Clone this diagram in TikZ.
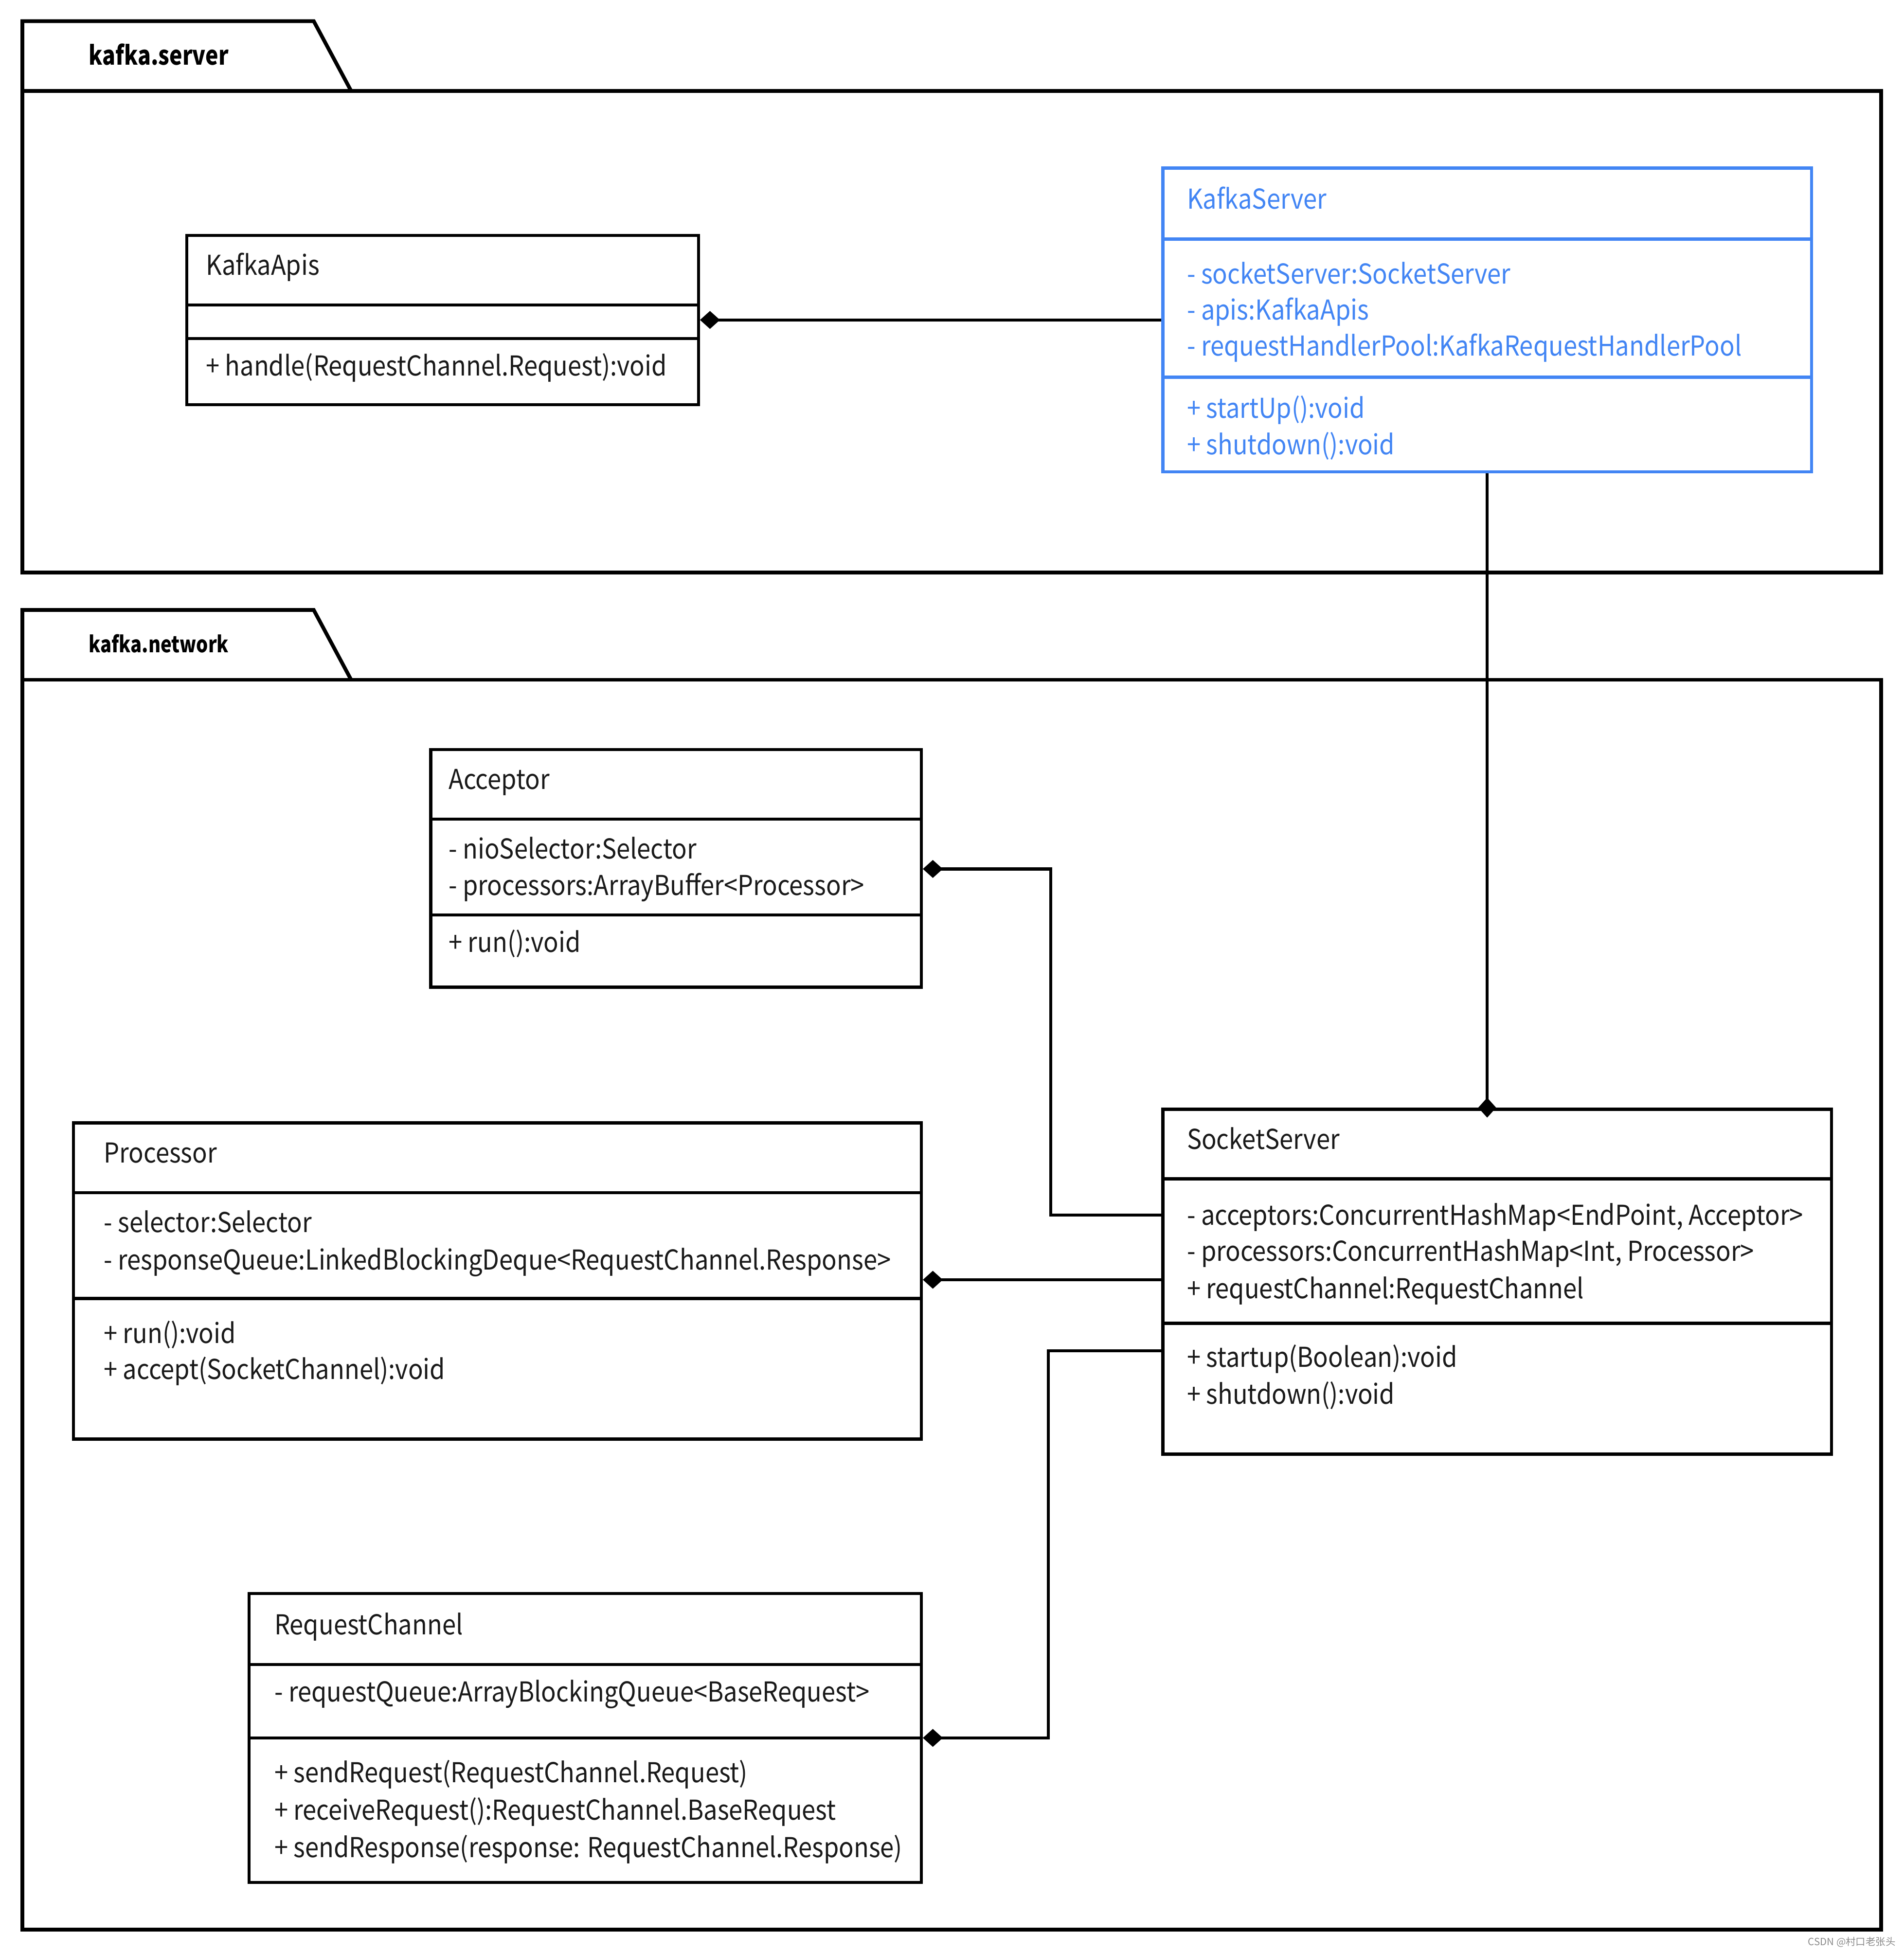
\documentclass[tikz,border=0pt]{standalone}
\usepackage{fontspec}
\setmainfont{Noto Sans CJK SC}
\newfontfamily\umlfont{Noto Sans CJK SC}[FakeStretch=0.9]
\newfontfamily\pkgfont{Noto Sans CJK SC}[FakeStretch=0.83]
\usetikzlibrary{arrows.meta,fit}
\definecolor{umlblue}{RGB}{66,133,244}
\tikzset{
  pkgline/.style={line width=1.5pt, draw=black},
  classbox/.style={draw=black, line width=1.25pt, inner sep=0pt, fill=none},
  bluebox/.style={draw=umlblue, line width=1.25pt, inner sep=0pt},
  divider/.style={line width=1.25pt},
  txt/.style={anchor=base west, inner sep=0pt, font=\umlfont\fontsize{11pt}{13pt}\selectfont, text=black!90},
  bluetxt/.style={txt, text=umlblue},
  pkgtxt/.style={anchor=base west, inner sep=0pt, font=\pkgfont\fontsize{10.5pt}{12pt}\selectfont\bfseries},
  pkgtxtsmall/.style={anchor=base west, inner sep=0pt, font=\pkgfont\fontsize{9pt}{11pt}\selectfont\bfseries},
  comp/.style={line width=1.25pt, -{Diamond[length=8pt,width=7.2pt]}},
}
\begin{document}
\begin{tikzpicture}[x=0.5pt,y=-0.5pt]
\useasboundingbox (0,0) rectangle (1529,1568);
\fill[white] (0,0) rectangle (1529,1568);

% ---------- package kafka.server ----------
\draw[pkgline] (18,73) -- (18,17) -- (252,17) -- (282,73);
\node[fit={(18,73) (1511,460)}, inner sep=0pt, pkgline, draw] (pkgserver) {};
\node[pkgtxt] (pkgserverlbl) at (71,52) {kafka.server};

% ---------- package kafka.network ----------
\draw[pkgline] (18,546) -- (18,490) -- (252,490) -- (282,546);
\node[fit={(18,546) (1511,1550)}, inner sep=0pt, pkgline, draw] (pkgnet) {};
\node[pkgtxtsmall] (pkgnetlbl) at (71,524) {kafka.network};

% ---------- KafkaApis ----------
\node[fit={(150,189) (561,325)}, classbox] (kapis) {};
\draw[divider] (150,245) -- (561,245);
\draw[divider] (150,272) -- (561,272);
\node[txt] (kapist) at (165,221) {KafkaApis};
\node[txt] (kapism) at (165,302) {+ handle(RequestChannel.Request):void};

% ---------- KafkaServer ----------
\node[fit={(934,135) (1455,379)}, bluebox] (kserver) {};
\draw[divider, umlblue] (934,192) -- (1455,192);
\draw[divider, umlblue] (934,303) -- (1455,303);
\node[bluetxt] (kservert) at (953,168) {KafkaServer};
\node[bluetxt] (kservera1) at (953,228) {- socketServer:SocketServer};
\node[bluetxt] (kservera2) at (953,257) {- apis:KafkaApis};
\node[bluetxt] (kservera3) at (953,286) {- requestHandlerPool:KafkaRequestHandlerPool};
\node[bluetxt] (kserverm1) at (953,336) {+ startUp():void};
\node[bluetxt] (kserverm2) at (953,365) {+ shutdown():void};

% ---------- Acceptor ----------
\node[fit={(346,602) (740,793)}, classbox] (acceptor) {};
\draw[divider] (346,658) -- (740,658);
\draw[divider] (346,735) -- (740,735);
\node[txt] (acceptort) at (360,634) {Acceptor};
\node[txt] (acceptora1) at (360,690) {- nioSelector:Selector};
\node[txt] (acceptora2) at (360,719) {- processors:ArrayBuffer<Processor>};
\node[txt] (acceptorm1) at (360,765) {+ run():void};

% ---------- Processor ----------
\node[fit={(59,902) (740,1156)}, classbox] (processor) {};
\draw[divider] (59,958) -- (740,958);
\draw[divider] (59,1043) -- (740,1043);
\node[txt] (processort) at (83,934) {Processor};
\node[txt] (processora1) at (83,990) {- selector:Selector};
\node[txt] (processora2) at (83,1020) {- responseQueue:LinkedBlockingDeque<RequestChannel.Response>};
\node[txt] (processorm1) at (83,1079) {+ run():void};
\node[txt] (processorm2) at (83,1108) {+ accept(SocketChannel):void};

% ---------- SocketServer ----------
\node[fit={(934,891) (1471,1168)}, classbox] (sserver) {};
\draw[divider] (934,947) -- (1471,947);
\draw[divider] (934,1063) -- (1471,1063);
\node[txt] (sservert) at (953,923) {SocketServer};
\node[txt] (sservera1) at (953,984) {- acceptors:ConcurrentHashMap<EndPoint, Acceptor>};
\node[txt] (sservera2) at (953,1013) {- processors:ConcurrentHashMap<Int, Processor>};
\node[txt] (sservera3) at (953,1043) {+ requestChannel:RequestChannel};
\node[txt] (sserverm1) at (953,1098) {+ startup(Boolean):void};
\node[txt] (sserverm2) at (953,1128) {+ shutdown():void};

% ---------- RequestChannel ----------
\node[fit={(200,1280) (740,1512)}, classbox] (rchannel) {};
\draw[divider] (200,1337) -- (740,1337);
\draw[divider] (200,1396) -- (740,1396);
\node[txt] (rchannelt) at (220,1313) {RequestChannel};
\node[txt] (rchannela1) at (220,1367) {- requestQueue:ArrayBlockingQueue<BaseRequest>};
\node[txt] (rchannelm1) at (220,1432) {+ sendRequest(RequestChannel.Request)};
\node[txt] (rchannelm2) at (220,1462) {+ receiveRequest():RequestChannel.BaseRequest};
\node[txt] (rchannelm3) at (220,1492) {+ sendResponse(response: RequestChannel.Response)};

% ---------- connectors ----------
\draw[comp] (kserver.west |- 0,257) -- (kapis.east |- 0,257);
\draw[comp, shorten >=-4pt] (kserver.south) -- (sserver.north -| kserver.south);
\draw[comp] (sserver.west |- 0,976) -- (844,976) -- (844,698) -- (acceptor.east |- 0,698);
\draw[comp] (sserver.west |- 0,1028) -- (processor.east |- 0,1028);
\draw[comp] (sserver.west |- 0,1085) -- (842,1085) -- (842,1396) -- (rchannel.east |- 0,1396);

% ---------- watermark ----------
\node[anchor=east, inner sep=0pt, text=black!45, font=\fontsize{4pt}{5pt}\selectfont] (wm) at (1523,1560) {CSDN @村口老张头};
\end{tikzpicture}
\end{document}
